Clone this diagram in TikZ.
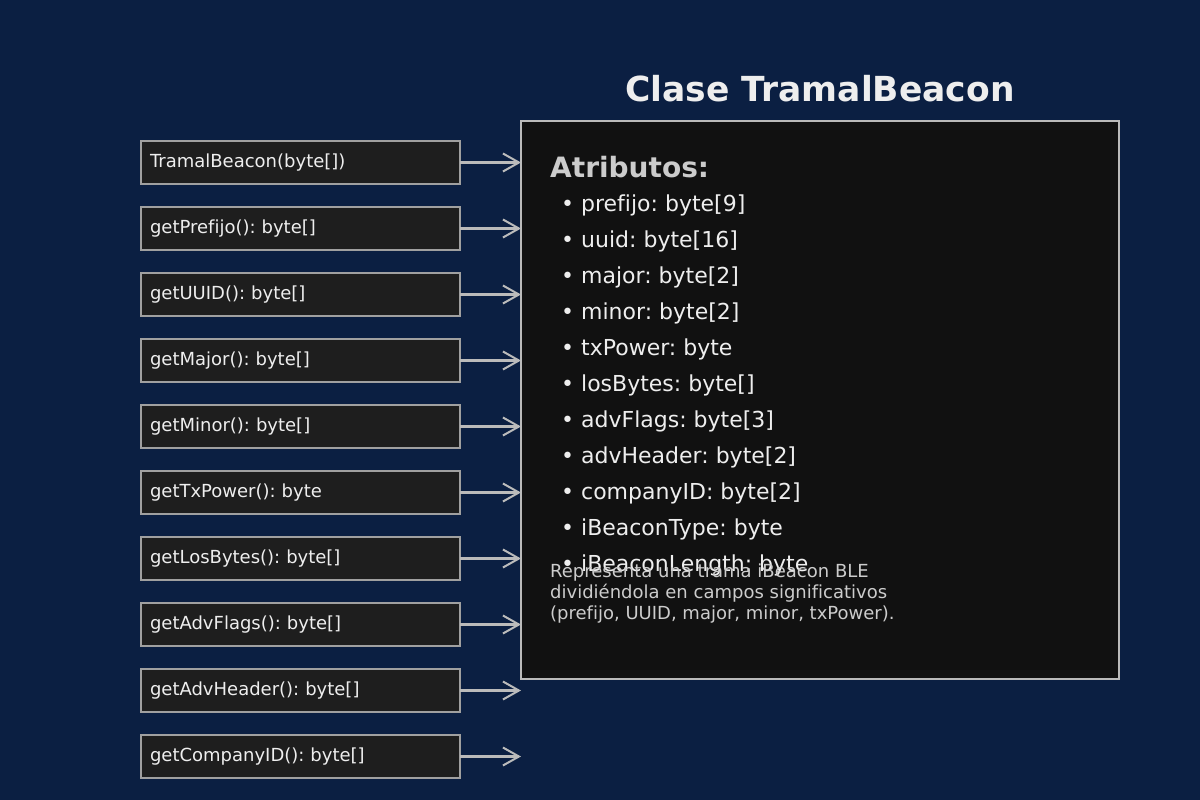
\documentclass[tikz,border=0pt]{standalone}
\usepackage{fontspec}
\setmainfont[Ligatures=NoCommon]{DejaVu Sans}
\usetikzlibrary{arrows.meta,positioning}

\definecolor{navybg}{HTML}{0B1F42}
\definecolor{methodfill}{HTML}{1E1E1E}
\definecolor{methodline}{HTML}{A0A0A0}
\definecolor{classfill}{HTML}{111111}
\definecolor{classline}{HTML}{BBBBBB}
\definecolor{lighttext}{HTML}{EEEEEE}
\definecolor{softtext}{HTML}{CCCCCC}

\frenchspacing
\begin{document}
\begin{tikzpicture}[
  x=1pt, y=-1pt,
  method/.style={draw=methodline, fill=methodfill, line width=2pt, text=lighttext,
    text width=301pt, minimum height=43pt, inner xsep=9pt, inner ysep=0pt, outer sep=0pt,
    align=left, font=\fontsize{18}{21}\selectfont},
  attr/.style={anchor=base west, inner sep=0pt, text=lighttext, font=\fontsize{22}{26}\selectfont},
  node distance=23pt,
  call/.style={draw=classline, line width=2.5pt, -{Straight Barb[length=16pt, width=18pt, line width=2pt]}}
]
\fill[navybg] (0,0) rectangle (1200,800);

% class box
\node[draw=classline, fill=classfill, line width=2.5pt, minimum width=598pt, minimum height=558pt,
  inner sep=0pt, outer sep=0pt, anchor=north west] (cls) at (521,121) {};
\node[anchor=base, inner sep=0pt, text=lighttext, font=\fontsize{34.5}{40}\selectfont\bfseries] (title) at (820,102) {Clase TramalBeacon};

% methods
\node[method, anchor=north west] (m1) at (141,141) {TramalBeacon(byte[])};
\node[method, below=of m1] (m2) {getPrefijo(): byte[]};
\node[method, below=of m2] (m3) {getUUID(): byte[]};
\node[method, below=of m3] (m4) {getMajor(): byte[]};
\node[method, below=of m4] (m5) {getMinor(): byte[]};
\node[method, below=of m5] (m6) {getTxPower(): byte};
\node[method, below=of m6] (m7) {getLosBytes(): byte[]};
\node[method, below=of m7] (m8) {getAdvFlags(): byte[]};
\node[method, below=of m8] (m9) {getAdvHeader(): byte[]};
\node[method, below=of m9] (m10) {getCompanyID(): byte[]};

\draw[call] (m1.east) -- (m1.east -| cls.west);
\draw[call] (m2.east) -- (m2.east -| cls.west);
\draw[call] (m3.east) -- (m3.east -| cls.west);
\draw[call] (m4.east) -- (m4.east -| cls.west);
\draw[call] (m5.east) -- (m5.east -| cls.west);
\draw[call] (m6.east) -- (m6.east -| cls.west);
\draw[call] (m7.east) -- (m7.east -| cls.west);
\draw[call] (m8.east) -- (m8.east -| cls.west);
\draw[call] (m9.east) -- (m9.east -| cls.west);
\draw[call] (m10.east) -- (m10.east -| cls.west);

% attributes
\node[attr, text=softtext, font=\fontsize{28}{33}\selectfont\bfseries] (atr) at (550,177) {Atributos:};
\node[attr] (a1) at (561,211) {• prefijo: byte[9]};
\node[attr] (a2) at (561,247) {• uuid: byte[16]};
\node[attr] (a3) at (561,283) {• major: byte[2]};
\node[attr] (a4) at (561,319) {• minor: byte[2]};
\node[attr] (a5) at (561,355) {• txPower: byte};
\node[attr] (a6) at (561,391) {• losBytes: byte[]};
\node[attr] (a7) at (561,427) {• advFlags: byte[3]};
\node[attr] (a8) at (561,463) {• advHeader: byte[2]};
\node[attr] (a9) at (561,499) {• companyID: byte[2]};
\node[attr] (a10) at (561,535) {• iBeaconType: byte};
\node[attr] (a11) at (561,571) {• iBeaconLength: byte};

% description
\node[attr, text=softtext, font=\fontsize{18}{21}\selectfont] (d1) at (550,577) {Representa una trama iBeacon BLE};
\node[attr, text=softtext, font=\fontsize{18}{21}\selectfont] (d2) at (550,598) {dividiéndola en campos significativos};
\node[attr, text=softtext, font=\fontsize{18}{21}\selectfont] (d3) at (550,619) {(prefijo, UUID, major, minor, txPower).};
\end{tikzpicture}
\end{document}
